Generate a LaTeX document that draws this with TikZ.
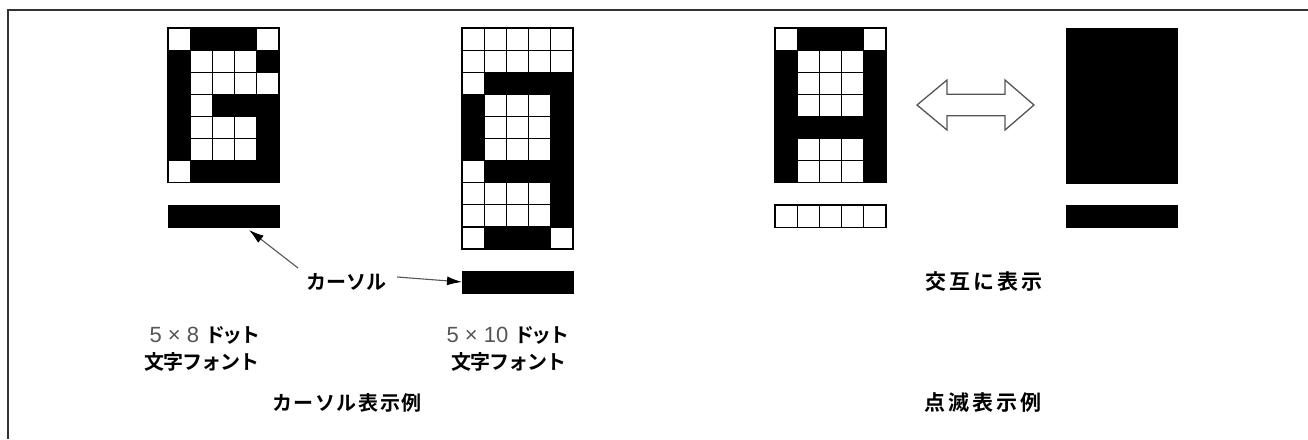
\documentclass[tikz,border=0pt]{standalone}
\usepackage{fontspec}
\newfontfamily\jp{Noto Sans CJK JP Bold}
\newfontfamily\jpn{Noto Sans CJK JP Bold}[LetterSpace=-5]
\newfontfamily\jpdot{Noto Sans CJK JP Bold}[LetterSpace=-12]
\newfontfamily\jpwide{Noto Sans CJK JP Bold}[LetterSpace=15]
\newfontfamily\jpcap{Noto Sans CJK JP Bold}[LetterSpace=8]
\newfontfamily\lat{Liberation Sans}
\usetikzlibrary{arrows.meta,calc}
\definecolor{txtgray}{HTML}{555555}
\definecolor{framegray}{HTML}{333333}
\def\cw{22.2}
\def\ch{22.1}
\newcommand\dotgrid[4]{% x0, y0, nrows, rows
  \foreach \row [count=\r] in {#4}{
    \foreach \v [count=\c] in \row {
      \ifnum\v=1
        \fill[black] ({#1+(\c-1)*\cw},{#2+(\r-1)*\ch}) rectangle ++(\cw,\ch);
      \else
        \draw[cellline,fill=white] ({#1+(\c-1)*\cw},{#2+(\r-1)*\ch}) rectangle ++(\cw,\ch);
      \fi
    }
  }
  \draw[cellline] (#1,#2) rectangle ++({5*\cw},{#3*\ch});
}
\newcommand\dotlabel[1]{{\lat\fontsize{22pt}{24pt}\selectfont\color{txtgray}#1}\hspace{6pt}{\jpdot\color{black}ドット}}
\begin{document}
\begin{tikzpicture}[x=1pt,y=-1pt,
  cellline/.style={draw=black,line width=1.2pt},
  bar/.style={draw=black,fill=black,line width=1pt,inner sep=0pt,outer sep=0pt,
    minimum width=111pt,minimum height=22pt,anchor=north west},
  lbl/.style={inner sep=0pt,font=\fontsize{20pt}{23pt}\selectfont},
  widelbl/.style={inner sep=0pt,font=\fontsize{21pt}{24pt}\selectfont},
  ptr/.style={draw=txtgray,line width=1.1pt,-{Latex[length=15pt,width=9pt,color=black]}},
  dblarrow/.style={draw=txtgray,line width=1.3pt,fill=white,line join=miter}]
\useasboundingbox (0,0) rectangle (1308,439);
\draw[framegray,line width=1.5pt] (8,439) -- (8,10) -- (1308,10);

% 5x8 font grid ("6")
\dotgrid{168}{28}{7}{{0,1,1,1,0},{1,0,0,0,1},{1,0,0,0,0},{1,0,1,1,1},{1,0,0,0,1},{1,0,0,0,1},{0,1,1,1,1}}
\node[bar] (bar1) at (168,205) {};

% 5x10 font grid ("9")
\dotgrid{462}{28}{10}{{0,0,0,0,0},{0,0,0,0,0},{0,1,1,1,1},{1,0,0,0,1},{1,0,0,0,1},{1,0,0,0,1},{0,1,1,1,1},{0,0,0,0,1},{0,0,0,0,1},{0,1,1,1,0}}
\node[bar] (bar2) at (462,271) {};

% blinking: character
\dotgrid{775}{28}{7}{{0,1,1,1,0},{1,0,0,0,1},{1,0,0,0,1},{1,0,0,0,1},{1,1,1,1,1},{1,0,0,0,1},{1,0,0,0,1}}
\dotgrid{775}{205}{1}{{0,0,0,0,0}}

% blinking: full block
\node[bar,minimum height=155pt] (blk) at (1066,28) {};
\node[bar] (bar4) at (1066,205) {};

% double arrow
\draw[dblarrow] (917,105) -- (947,80) -- (947,94.3) -- (1005,94.3) -- (1005,80)
  -- (1034,105) -- (1005,130) -- (1005,115.7) -- (947,115.7) -- (947,130) -- cycle;

% texts
\node[lbl] (cur) at (346,282) {\jp カーソル};
\coordinate (s1) at (298,268);
\coordinate (s2) at (397,277);
\draw[ptr] (s1) -- ([xshift=-30pt,yshift=-3pt]bar1.south east);
\draw[ptr] (s2) -- (bar2.west);

\node[lbl] (f1a) at (205,335) {\dotlabel{5 × 8}};
\node[lbl] (f1b) at (201.5,362) {\jpn 文字フォント};
\node[lbl] (f2a) at (508,335) {\dotlabel{5 × 10}};
\node[lbl] (f2b) at (509,362) {\jpn 文字フォント};
\node[lbl] (cap1) at (347,403) {\jpcap カーソル表示例};
\node[widelbl] (alt) at (984,282) {\jpwide 交互に表示};
\node[widelbl] (cap2) at (983,403) {\jpwide 点滅表示例};
\end{tikzpicture}
\end{document}
